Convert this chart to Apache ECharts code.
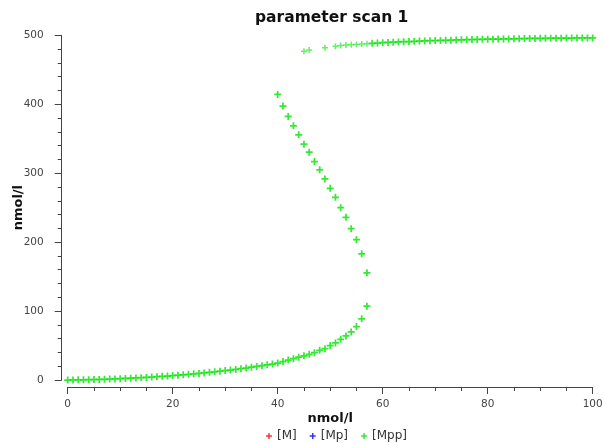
<!DOCTYPE html>
<html>
<head>
<meta charset="utf-8">
<script src="https://cdn.jsdelivr.net/npm/echarts@6/dist/echarts.min.js"></script>
<style>html,body{margin:0;padding:0;background:#fff}#c{width:604px;height:443px}</style>
</head>
<body>
<div id="c"></div>
<script>
const titleText = 'parameter scan 1';
const xAxisName = 'nmol/l';
const yAxisName = 'nmol/l';
const seriesNames = ['[M]', '[Mp]', '[Mpp]'];
const xTicks = [0, 20, 40, 60, 80, 100];
const yTicks = [0, 100, 200, 300, 400, 500];

// [M] and [Mp] have no visible points in the reference
const mData = [];
const mpData = [];

// [Mpp] lower branch
const mppLower = [
  [0,0.0],[1,0.1],[2,0.2],[3,0.3],[4,0.4],[5,0.6],[6,0.8],[7,1.0],[8,1.3],[9,1.6],
  [10,1.9],[11,2.2],[12,2.6],[13,3.0],[14,3.4],[15,3.8],[16,4.3],[17,4.8],[18,5.3],[19,5.8],
  [20,6.4],[21,7.0],[22,7.6],[23,8.2],[24,8.9],[25,9.6],[26,10.3],[27,11.1],[28,11.9],[29,12.7],
  [30,13.6],[31,14.5],[32,15.4],[33,16.4],[34,17.4],[35,18.5],[36,19.6],[37,20.8],[38,22.0],[39,23.2],
  [40,24.5],[41,26.8],[42,29.0],[43,31.0],[44,33.1],[45,35.0],[46,37.3],[47,39.7],[48,43.0],[49,45.5],
  [50,49.9],[51,53.8],[52,59.1],[53,64.0],[54,69.8],[55,77.5],[56,88.7],[57,107.1]
];
// [Mpp] middle branch
const mppMiddle = [
  [40,414.2],[41,397.3],[42,382.3],[43,368.7],[44,355.6],[45,342.0],[46,330.4],[47,316.9],[48,304.8],
  [49,291.7],[50,278.1],[51,265.0],[52,250.0],[53,235.9],[54,219.5],[55,203.5],[56,183.1],[57,155.5]
];
// [Mpp] upper branch (first, fainter points)
const mppUpperFaint = [
  [45,476.7],[46,478.7],[49,482.1],[51,484.0],[52,485.2],[53,485.8],[54,486.3],[55,486.8],[56,487.3],[57,487.8]
];
// [Mpp] upper branch
const mppUpper = [
  [58,488.3],[59,488.8],[60,489.2],[61,489.6],[62,490.0],[63,490.4],[64,490.7],[65,491.0],[66,491.3],[67,491.6],
  [68,491.9],[69,492.2],[70,492.4],[71,492.6],[72,492.8],[73,493.0],[74,493.2],[75,493.4],[76,493.6],[77,493.8],
  [78,494.0],[79,494.1],[80,494.3],[81,494.4],[82,494.5],[83,494.7],[84,494.8],[85,494.9],[86,495.0],[87,495.3],
  [88,495.4],[89,495.5],[90,495.6],[91,495.7],[92,495.8],[93,495.9],[94,495.9],[95,496.0],[96,496.0],[97,496.1],
  [98,496.1],[99,496.2],[100,496.2]
];

const plus = 'path://M3,0H5V3H8V5H5V8H3V5H0V3H3Z';
const font = 'DejaVu Sans';
const colors = ['#ff0000', '#0000ff', '#00e400'];

const chart = echarts.init(document.getElementById('c'), null, {renderer: 'canvas'});
chart.setOption({
  animation: false,
  backgroundColor: '#ffffff',
  title: {
    text: titleText, left: 250, top: 5,
    textStyle: {fontFamily: font, fontSize: 15.5, fontWeight: 'bold', color: '#111'}
  },
  legend: {
    data: seriesNames.map((n, i) => ({name: n, icon: plus, itemStyle: {color: colors[i]}})),
    bottom: -4, left: 261, itemWidth: 6, itemHeight: 6, itemGap: 13,
    textStyle: {fontFamily: font, fontSize: 12, color: '#333'},
    selectedMode: false
  },
  grid: {left: 67.7, right: 11.3, top: 35.3, bottom: 63, containLabel: false, outerBoundsMode: 'none'},
  xAxis: {
    type: 'value', min: xTicks[0], max: xTicks[xTicks.length - 1], interval: 20,
    offset: 7,
    name: xAxisName, nameLocation: 'middle', nameGap: 25, nameMoveOverlap: false,
    nameTextStyle: {fontFamily: font, fontSize: 13, fontWeight: 'bold', color: '#111'},
    axisLine: {show: true, onZero: false, lineStyle: {color: '#444', width: 1}},
    axisTick: {show: true, length: 7, lineStyle: {color: '#444'}},
    minorTick: {show: true, splitNumber: 4, length: 4, lineStyle: {color: '#444'}},
    axisLabel: {fontFamily: font, fontSize: 10.5, color: '#444', margin: 12},
    splitLine: {show: false}
  },
  yAxis: {
    type: 'value', min: yTicks[0], max: yTicks[yTicks.length - 1], interval: 100,
    offset: 6,
    name: yAxisName, nameLocation: 'middle', nameGap: 37, nameRotate: 90, nameMoveOverlap: false,
    nameTextStyle: {fontFamily: font, fontSize: 13, fontWeight: 'bold', color: '#111'},
    axisLine: {show: true, onZero: false, lineStyle: {color: '#444', width: 1}},
    axisTick: {show: true, length: 7, lineStyle: {color: '#444'}},
    minorTick: {show: true, splitNumber: 5, length: 4, lineStyle: {color: '#444'}},
    axisLabel: {fontFamily: font, fontSize: 10.5, color: '#444', margin: 18},
    splitLine: {show: false}
  },
  series: [
    {name: seriesNames[0], type: 'scatter', data: mData, symbol: plus, symbolSize: 7, itemStyle: {color: colors[0]}},
    {name: seriesNames[1], type: 'scatter', data: mpData, symbol: plus, symbolSize: 7, itemStyle: {color: colors[1]}},
    {name: seriesNames[2], type: 'scatter', data: mppLower.concat(mppMiddle, mppUpper), symbol: plus, symbolSize: 7, itemStyle: {color: colors[2]}},
    {name: seriesNames[2], type: 'scatter', data: mppUpperFaint, symbol: plus, symbolSize: 6, itemStyle: {color: colors[2], opacity: 0.6}}
  ]
});
</script>
</body>
</html>
